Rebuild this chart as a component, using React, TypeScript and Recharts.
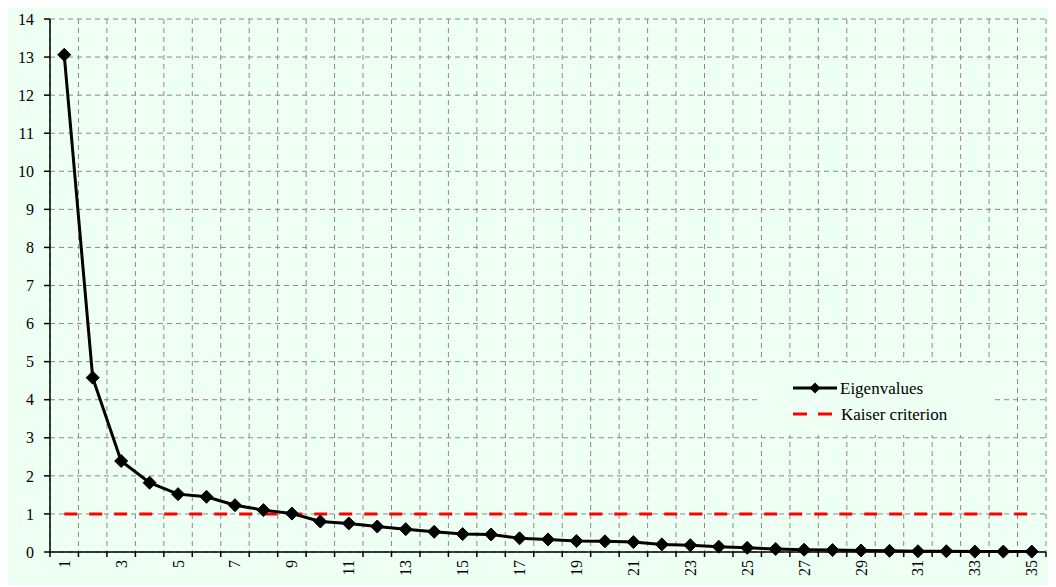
import {
  ComposedChart,
  Line,
  XAxis,
  YAxis,
  CartesianGrid,
  Legend,
} from "recharts";

// principal components 1..35
const components = [
  1, 2, 3, 4, 5, 6, 7, 8, 9, 10, 11, 12, 13, 14, 15, 16, 17, 18, 19, 20, 21,
  22, 23, 24, 25, 26, 27, 28, 29, 30, 31, 32, 33, 34, 35,
];
const eigenvalues = [
  13.06, 4.58, 2.39, 1.82, 1.52, 1.45, 1.23, 1.1, 1.01, 0.8, 0.75, 0.67, 0.6,
  0.53, 0.47, 0.46, 0.36, 0.33, 0.29, 0.28, 0.26, 0.2, 0.18, 0.14, 0.11, 0.08,
  0.06, 0.05, 0.04, 0.03, 0.02, 0.02, 0.01, 0.01, 0.01,
];
const kaiserCriterion = 1;
const xLabelTicks = [1, 3, 5, 7, 9, 11, 13, 15, 17, 19, 21, 23, 25, 27, 29, 31, 33, 35];
const yTicks = [0, 1, 2, 3, 4, 5, 6, 7, 8, 9, 10, 11, 12, 13, 14];

const data = components.map((c, i) => ({
  component: c,
  eigen: eigenvalues[i],
  kaiser: kaiserCriterion,
}));
// category boundaries, used for tick marks and vertical gridlines
const boundaryTicks = components.map((c) => c - 0.5).concat(components.length + 0.5);

const FONT = '"Liberation Serif", "Times New Roman", serif';
const BG = "#eefff4";

const Diamond = (props: any) => {
  const { cx, cy } = props;
  if (cx == null || cy == null) return null;
  return (
    <polygon
      points={`${cx},${cy - 6.5} ${cx + 6.5},${cy} ${cx},${cy + 6.5} ${cx - 6.5},${cy}`}
      fill="#000"
      stroke="#000"
    />
  );
};

const XLabel = (props: any) => {
  const { x, y, payload } = props;
  return (
    <text
      x={x}
      y={y}
      transform={`rotate(-90 ${x} ${y})`}
      textAnchor="end"
      dominantBaseline="central"
      fontSize={16}
      fontFamily={FONT}
      fill="#000"
    >
      {payload.value}
    </text>
  );
};

const LegendBox = () => (
  <svg width={232} height={72} style={{ display: "block" }}>
    <line x1={33} y1={25} x2={77} y2={25} stroke="#000" strokeWidth={3} />
    <polygon points="55,19.5 60.5,25 55,30.5 49.5,25" fill="#000" />
    <text x={80} y={31} fontSize={17} fontFamily={FONT} fill="#000">
      Eigenvalues
    </text>
    <line
      x1={33}
      y1={51}
      x2={73}
      y2={51}
      stroke="#ff0000"
      strokeWidth={3}
      strokeDasharray="14 11"
    />
    <text x={81} y={57} fontSize={17} fontFamily={FONT} fill="#000">
      Kaiser criterion
    </text>
  </svg>
);

export default function App() {
  return (
    <div style={{ marginLeft: -5, marginTop: -6, width: 1050, height: 583, background: BG }}>
      <ComposedChart
        width={1050}
        height={583}
        data={data}
        margin={{ top: 17, right: 7, left: 0, bottom: 0 }}
      >
        <CartesianGrid stroke="#8a8a8a" strokeDasharray="5 4" />
        <XAxis
          xAxisId={0}
          dataKey="component"
          type="number"
          domain={[0.5, 35.5]}
          ticks={boundaryTicks}
          interval={0}
          height={8}
          tickSize={5}
          tick={() => <g />}
          stroke="#000"
          strokeWidth={1.5}
        />
        <XAxis
          xAxisId="labels"
          dataKey="component"
          type="number"
          domain={[0.5, 35.5]}
          ticks={xLabelTicks}
          interval={0}
          height={25}
          axisLine={false}
          tickLine={false}
          tickSize={0}
          tickMargin={0}
          tick={<XLabel />}
        />
        <YAxis
          domain={[0, 14]}
          ticks={yTicks}
          interval={0}
          width={47}
          tickSize={6}
          tickMargin={10}
          stroke="#000"
          strokeWidth={1.5}
          tick={{ fill: "#000", fontSize: 16, fontFamily: FONT }}
        />
        <Line
          dataKey="kaiser"
          name="Kaiser criterion"
          stroke="#ff0000"
          strokeWidth={3}
          strokeDasharray="13 12"
          dot={false}
          isAnimationActive={false}
        />
        <Line
          dataKey="eigen"
          name="Eigenvalues"
          stroke="#000"
          strokeWidth={3}
          dot={<Diamond />}
          isAnimationActive={false}
        />
        <Legend
          layout="horizontal"
          verticalAlign="middle"
          align="center"
          content={() => <LegendBox />}
          wrapperStyle={{
            position: "absolute",
            left: 757,
            top: 361,
            width: 232,
            height: 72,
            background: BG,
          }}
        />
      </ComposedChart>
    </div>
  );
}
